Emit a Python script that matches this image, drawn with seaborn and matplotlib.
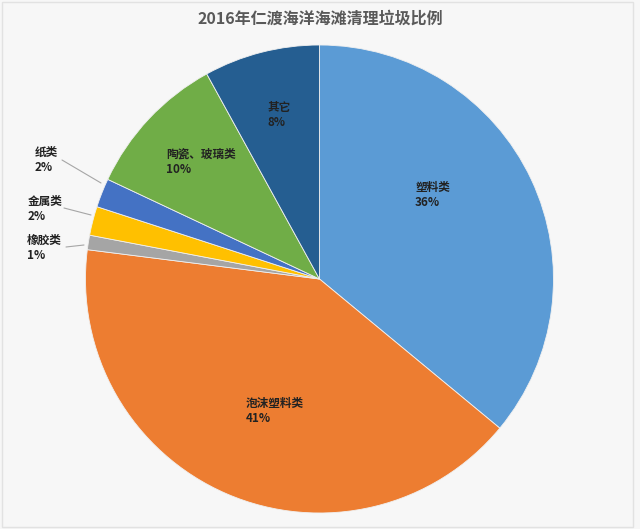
import matplotlib
matplotlib.use("Agg")
import matplotlib.pyplot as plt
from matplotlib.patches import Rectangle
import seaborn as sns

categories = ["塑料类", "泡沫塑料类", "橡胶类", "金属类", "纸类", "陶瓷、玻璃类", "其它"]
percents = [36, 41, 1, 2, 2, 10, 8]
colors = ["#5B9BD5", "#ED7D31", "#A5A5A5", "#FFC000", "#4472C4", "#70AD47", "#255E91"]
title = "2016年仁渡海洋海滩清理垃圾比例"

# label layout (pixel positions of left/middle text anchor) and leader lines
CX, CY, R = 319.5, 279, 234
label_px = [(415, 195), (246, 411), (27, 248), (28, 209), (35, 160), (166, 162), (268, 115)]
leaders = {2: [(66, 247), (84, 245)], 3: [(64, 208), (91, 215)], 4: [(62, 160), (101, 183)]}

sns.set_theme(style="white")
plt.rcParams['font.family'] = ['Noto Sans CJK SC', 'DejaVu Sans']

W, H = 640, 529
fig = plt.figure(figsize=(W / 100, H / 100), dpi=100)
fig.patch.set_facecolor("#f7f7f7")
fig.patches.append(Rectangle((2 / W, 2 / H), 631 / W, 525 / H, transform=fig.transFigure,
                             fill=False, edgecolor="#e2e2e2", lw=1))
ax = fig.add_axes([(CX - R) / W, (H - CY - R) / H, 2 * R / W, 2 * R / H])
ax.set_facecolor("none")

pal = sns.color_palette(colors)
ax.pie(percents, colors=pal, startangle=90, counterclock=False, radius=1,
       wedgeprops=dict(linewidth=0.6, edgecolor="#f0f0f0"))
ax.set_xlim(-1, 1)
ax.set_ylim(-1, 1)
ax.set_aspect("equal")
ax.axis("off")

def to_data(px, py):
    return (px - CX) / R, (CY - py) / R

for i, (cat, p) in enumerate(zip(categories, percents)):
    x, y = to_data(*label_px[i])
    ax.text(x, y, f"{cat}\n{p}%", ha="left", va="center", fontsize=8.4,
            fontweight="bold", color="#222222", linespacing=1.2, clip_on=False)

for i, pts in leaders.items():
    (x0, y0), (x1, y1) = to_data(*pts[0]), to_data(*pts[1])
    ax.plot([x0, x1], [y0, y1], color="#a6a6a6", lw=0.8, clip_on=False)

fig.text(0.5, 1 - 19 / H, title, ha="center", va="center", fontsize=11.5,
         fontweight="bold", color="#595959")

fig.savefig("out.png", dpi=100, facecolor=fig.get_facecolor())
